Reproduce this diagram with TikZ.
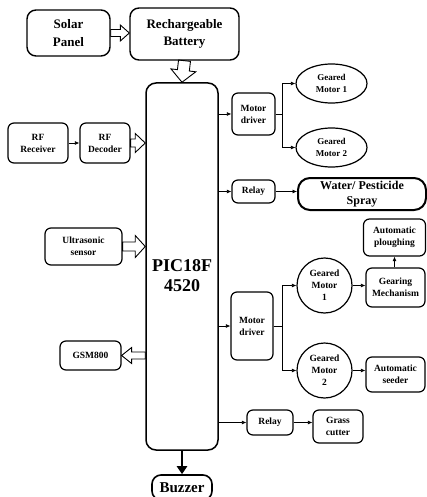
\documentclass[tikz,border=0pt]{standalone}
\usepackage{fontspec}
\setmainfont{Liberation Serif}
\usetikzlibrary{arrows.meta,shapes.geometric,calc}
\tikzset{
  blk/.style={draw,line width=1.2pt,rounded corners=6pt,align=center,inner sep=1pt,
    font=\fontsize{9.5}{12}\selectfont\bfseries},
  big/.style={blk,line width=1.4pt,rounded corners=9pt,font=\fontsize{13}{17.5}\selectfont\bfseries},
  elp/.style={draw,ellipse,line width=1.2pt,align=center,inner sep=0pt,
    minimum width=71pt,minimum height=39pt,font=\fontsize{9}{12}\selectfont\bfseries},
  crc/.style={draw,circle,line width=1.2pt,align=center,inner sep=0pt,
    minimum size=55pt,font=\fontsize{9.5}{12}\selectfont\bfseries},
  sg/.style={line width=0.7pt,-{Latex[length=4.5pt,width=4pt]}},
  hol/.style args={#1,#2,#3}{line width=0.9pt,to path={
    let \p1=(\tikztostart),\p2=(\tikztotarget),\n1={atan2(\y2-\y1,\x2-\x1)},
    \n2={veclen(\x2-\x1,\y2-\y1)} in [shift={(\p1)},rotate=\n1]
    -- (0,#1) -- (\n2-#3,#1) -- (\n2-#3,#2) -- (\n2,0) -- (\n2-#3,-#2)
    -- (\n2-#3,-#1) -- (0,-#1) -- cycle}},
  thk/.style={line width=2pt,-{Triangle[length=8pt,width=10pt]}}
}

\begin{document}
\begin{tikzpicture}[x=1pt,y=-1pt]
\useasboundingbox (0,0) rectangle (427,497);
\node[big,minimum width=83pt,minimum height=46pt] (sol) at (68.5,33) {Solar\\Panel};
\node[big,minimum width=109pt,minimum height=52pt] (bat) at (184.5,34) {Rechargeable\\Battery};
\node[draw,line width=1.5pt,rounded corners=10pt,minimum width=72pt,minimum height=367pt,
  label={[yshift=-9pt,align=center,font=\fontsize{18}{20}\selectfont\bfseries]center:{PIC18F\\4520}}]
  (pic) at (182,266.5) {};
\node[blk,minimum width=60pt,minimum height=40pt] (rfr) at (38,143) {RF\\Receiver};
\node[blk,minimum width=50pt,minimum height=40pt] (rfd) at (105,143) {RF\\Decoder};
\node[blk,minimum width=77pt,minimum height=37pt] (ult) at (83.5,246.5) {Ultrasonic\\sensor};
\node[blk,minimum width=61pt,minimum height=29pt] (gsm) at (90.5,355.5) {GSM800};
\node[big,line width=1.6pt,minimum width=60pt,minimum height=25pt,
  font=\fontsize{15}{17}\selectfont\bfseries] (buz) at (182,487.5) {Buzzer};
\node[blk,minimum width=43pt,minimum height=42pt] (md1) at (253.5,114) {Motor\\driver};
\node[elp] (gm1) at (331.5,83.5) {Geared\\Motor 1};
\node[elp] (gm2) at (331.5,147.5) {Geared\\Motor 2};
\node[blk,minimum width=43pt,minimum height=23pt] (rl1) at (253.5,191.5) {Relay};
\node[blk,line width=2pt,rounded corners=12pt,minimum width=128pt,minimum height=32pt,
  font=\fontsize{12}{14.5}\selectfont\bfseries] (spr) at (362,194) {Water/ Pesticide\\Spray};
\node[blk,minimum width=42pt,minimum height=68pt] (md2) at (252,326) {Motor\\driver};
\node[crc] (gc1) at (324.5,285.5) {Geared\\Motor\\1};
\node[crc] (gc2) at (324.5,370.5) {Geared\\Motor\\2};
\node[blk,minimum width=59pt,minimum height=39pt] (gea) at (395.5,287.5) {Gearing\\Mechanism};
\node[blk,minimum width=62pt,minimum height=37pt] (plo) at (394.5,237.5) {Automatic\\ploughing};
\node[blk,minimum width=59pt,minimum height=35pt] (see) at (395.5,374.5) {Automatic\\seeder};
\node[blk,minimum width=46pt,minimum height=25pt] (rl2) at (270,422.5) {Relay};
\node[blk,minimum width=50pt,minimum height=33pt] (grs) at (338,426.5) {Grass\\cutter};

\draw[hol={3.5,8,9}] (sol.east) to (sol.east -| bat.west);
\draw[hol={6,12.5,12}] (bat.south) to (pic.north);
\draw[sg] (rfr) -- (rfd);
\draw[hol={4,9.5,10}] (rfd.east) to (rfd.east -| pic.west);
\draw[hol={4.5,11,10}] (ult.east) to (ult.east -| pic.west);
\draw[hol={3.5,8,10}] (gsm.east -| pic.west) to (gsm.east);
\draw[thk] (pic.south) -- (buz.north);
\draw[sg] (md1.west -| pic.east) -- (md1.west);
\draw[sg] (md1.east) -- ++(7,0) |- (gm1);
\draw[sg] (md1.east) -- ++(7,0) |- (gm2);
\draw[sg] (rl1.west -| pic.east) -- (rl1.west);
\draw[sg] (rl1.east) -- (rl1.east -| spr.west);
\draw[sg] (md2.west -| pic.east) -- (md2.west);
\draw[sg] (md2.east) -- ++(9,0) |- (gc1);
\draw[sg] (md2.east) -- ++(9,0) |- (gc2);
\draw[sg] (gc1.east) -- (gc1.east -| gea.west);
\draw[sg] (gea.north -| plo.south) -- (plo.south);
\draw[sg] (gc2.east) -- (gc2.east -| see.west);
\draw[sg] (rl2.west -| pic.east) -- (rl2.west);
\draw[sg] (rl2.east) -- (rl2.east -| grs.west);
\end{tikzpicture}
\end{document}
